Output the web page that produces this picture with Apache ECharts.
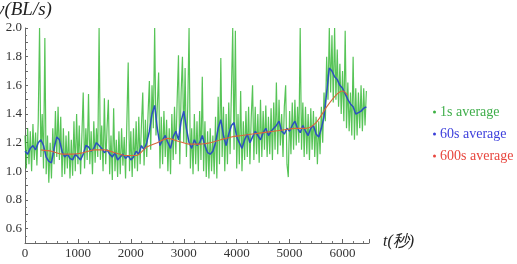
<!DOCTYPE html>
<html><head><meta charset="utf-8">
<script src="https://cdn.jsdelivr.net/npm/echarts@6/dist/echarts.min.js"></script>
<style>html,body{margin:0;padding:0;background:#fff}#c{width:517px;height:264px}</style>
</head><body><div id="c"></div>
<script>
// ---- data ----
const seriesNames = ['1s average', '60s average', '600s average'];
const xTickLabels = ['0', '1000', '2000', '3000', '4000', '5000', '6000'];
const yTickLabels = ['0.6', '0.8', '1.0', '1.2', '1.4', '1.6', '1.8', '2.0'];

// 1s average, sampled every 25 s from t = 0
const greenStart = 0, greenStep = 25;
const greenValues = [
 1.25,1.02,1.30,1.05,1.28,1.00,1.33,1.08,1.27,1.04,1.35,2.00,1.10,1.40,1.02,1.93,0.98,1.25,0.92,1.20,
 0.95,1.30,1.05,1.42,1.10,1.45,1.08,1.38,0.96,1.30,0.98,1.25,1.02,1.28,0.95,1.22,0.97,1.35,1.00,1.40,
 1.05,1.32,0.98,1.25,1.55,1.02,1.30,1.08,1.54,1.05,1.28,0.98,1.35,1.06,1.30,1.10,2.00,1.08,1.32,1.00,
 1.51,1.05,1.30,1.50,0.98,1.25,0.94,1.44,1.00,1.22,0.96,1.28,0.98,1.30,1.04,1.24,0.95,1.35,1.76,1.00,
 1.28,0.96,1.30,1.02,1.35,1.00,1.38,1.05,1.32,1.55,1.04,1.36,1.10,1.40,1.63,1.15,1.60,1.30,2.00,1.25,
 1.45,1.69,1.02,1.38,1.05,1.42,1.10,1.36,1.00,1.30,0.98,1.40,1.08,1.45,1.12,1.50,1.81,1.05,1.55,1.80,
 1.20,1.72,1.10,1.45,2.00,1.02,1.30,0.98,1.40,1.05,1.35,1.00,1.42,1.08,1.66,1.00,1.35,0.96,1.28,0.95,
 1.30,1.00,1.25,0.98,1.38,0.95,1.52,1.05,1.79,1.10,1.45,1.00,1.40,1.05,1.48,1.12,1.55,2.00,1.15,1.98,
 1.02,1.40,1.05,1.56,1.00,1.35,1.08,1.42,1.10,1.45,1.05,1.38,1.60,1.08,1.45,1.12,1.40,1.06,1.50,1.10,
 1.42,1.15,1.46,1.10,1.38,1.12,1.44,1.08,1.48,1.15,1.62,1.12,1.50,1.18,1.40,1.10,1.45,1.60,1.05,0.96,
 1.42,1.12,1.48,1.15,1.50,1.18,1.45,1.20,2.00,1.15,1.48,1.10,1.45,1.12,1.40,1.08,1.44,1.15,1.42,1.10,
 1.38,1.05,1.35,1.12,1.45,1.20,1.55,1.35,1.80,1.50,2.00,1.55,1.95,1.48,2.00,1.50,1.85,1.45,1.75,1.40,
 1.70,1.35,1.98,1.30,1.62,1.28,1.55,1.25,1.80,1.22,1.58,1.25,1.55,1.30,1.60,1.28,1.58,1.32,1.56
];

// 60s average, sampled every 50 s from t = 0
const blueStart = 0, blueStep = 50;
const blueValues = [
 1.14,1.12,1.16,1.18,1.15,1.20,1.22,1.18,1.10,1.07,1.06,1.16,1.24,1.22,1.14,1.10,1.12,1.09,1.08,1.12,
 1.10,1.08,1.12,1.18,1.17,1.14,1.16,1.20,1.18,1.16,1.13,1.15,1.12,1.10,1.13,1.08,1.10,1.12,1.09,1.11,
 1.08,1.10,1.14,1.12,1.18,1.15,1.20,1.28,1.40,1.46,1.30,1.18,1.22,1.25,1.20,1.16,1.24,1.28,1.22,1.35,
 1.42,1.30,1.20,1.16,1.22,1.18,1.20,1.25,1.18,1.13,1.12,1.14,1.20,1.30,1.36,1.25,1.18,1.26,1.32,1.34,
 1.24,1.20,1.16,1.22,1.26,1.20,1.24,1.28,1.25,1.22,1.27,1.30,1.25,1.28,1.30,1.32,1.35,1.28,1.26,1.30,
 1.28,1.32,1.35,1.30,1.27,1.32,1.28,1.25,1.30,1.32,1.26,1.24,1.30,1.38,1.55,1.72,1.70,1.66,1.64,1.60,
 1.58,1.54,1.50,1.47,1.45,1.40,1.41,1.42,1.44,1.45
];

// 600s average
const redTimes  = [300,500,700,900,1100,1300,1500,1700,1900,2100,2300,2500,2700,2900,3100,3300,3500,3700,3900,4100,4300,4500,4700,4900,5100,5300,5500,5700,5900,6000,6100];
const redValues = [1.15,1.14,1.12,1.12,1.13,1.15,1.15,1.13,1.11,1.11,1.17,1.20,1.23,1.21,1.19,1.19,1.20,1.22,1.24,1.25,1.26,1.27,1.28,1.29,1.30,1.30,1.34,1.45,1.54,1.56,1.53];

// ---- build ----
const greenData = greenValues.map((v, i) => [greenStart + i * greenStep, v]);
const blueData = blueValues.map((v, i) => [blueStart + i * blueStep, v]);
const redData = redValues.map((v, i) => [redTimes[i], v]);

const serif = 'Liberation Serif';
const chart = echarts.init(document.getElementById('c'), null, {renderer: 'canvas'});
chart.setOption({
  animation: false,
  backgroundColor: '#fff',
  grid: {left: 25, right: 148, top: 28, bottom: 21, containLabel: false},
  xAxis: {
    type: 'value', min: 0, max: 6500, interval: 1000,
    axisLine: {show: true, lineStyle: {color: '#666', width: 1}},
    axisTick: {show: true, inside: true, length: 4, lineStyle: {color: '#666'}},
    minorTick: {show: true, splitNumber: 5, length: 2, lineStyle: {color: '#777'}},
    splitLine: {show: false},
    axisLabel: {
      margin: 4, color: '#333', fontSize: 13, fontFamily: serif,
      formatter: v => xTickLabels.includes(String(Math.round(v))) && Math.abs(v - Math.round(v)) < 1e-6 ? String(Math.round(v)) : ''
    }
  },
  yAxis: {
    type: 'value', min: 0.5, max: 2.0, interval: 0.1,
    axisLine: {show: true, lineStyle: {color: '#666', width: 1}},
    axisTick: {show: true, inside: true, length: 3, lineStyle: {color: '#666'}},
    minorTick: {show: true, splitNumber: 2, length: 2, lineStyle: {color: '#777'}},
    splitLine: {show: false},
    axisLabel: {
      margin: 3, color: '#333', fontSize: 13, fontFamily: serif,
      formatter: v => { const s = v.toFixed(1); return yTickLabels.includes(s) ? s : ''; }
    }
  },
  legend: {
    orient: 'vertical', left: 428, top: 100, itemGap: 8,
    icon: 'circle', itemWidth: 3, itemHeight: 3,
    textStyle: {fontSize: 14, fontFamily: serif, padding: [0, 0, 0, -1]},
    data: [
      {name: seriesNames[0], textStyle: {color: '#3fae4a'}},
      {name: seriesNames[1], textStyle: {color: '#3d3fdc'}},
      {name: seriesNames[2], textStyle: {color: '#e8463e'}}
    ]
  },
  series: [
    {name: seriesNames[0], type: 'line', data: greenData, showSymbol: false, symbol: 'none',
     color: '#3cb043', lineStyle: {color: '#2db52d', width: 1.2, opacity: 0.8}, z: 2},
    {name: seriesNames[1], type: 'line', data: blueData, showSymbol: false, symbol: 'none',
     color: '#3a3fd8', lineStyle: {color: '#2c50c0', width: 1.5}, z: 3},
    {name: seriesNames[2], type: 'line', data: redData, showSymbol: false, symbol: 'none', smooth: 0.3,
     color: '#e8463e', lineStyle: {color: '#d9673a', width: 1.1}, z: 4}
  ],
  graphic: [
    {type: 'text', left: -4, top: 0, style: {text: 'v(BL/s)', fontFamily: serif, fontStyle: 'italic', fontSize: 19, fill: '#222'}},
    {type: 'text', left: 383, top: 234, style: {text: 't(秒)', fontFamily: serif, fontStyle: 'italic', fontSize: 16, fill: '#222'}}
  ]
});
</script></body></html>
